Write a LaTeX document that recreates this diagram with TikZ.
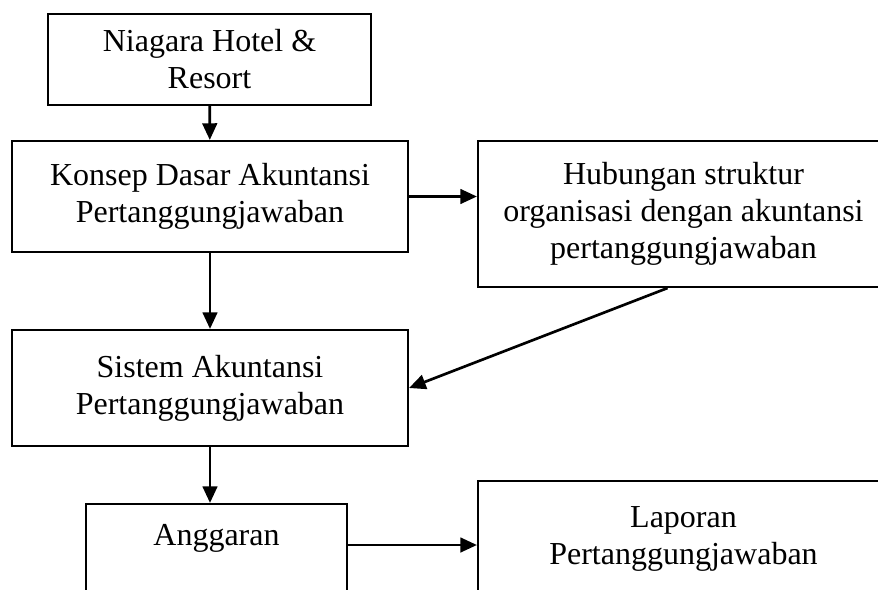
\documentclass[tikz,border=0pt]{standalone}
\usepackage{fontspec}
\setmainfont{Liberation Serif}
\usepackage{tikz}
\usepackage{xcolor}
\usetikzlibrary{arrows.meta}
\definecolor{ink}{HTML}{000000}
\definecolor{paper}{HTML}{FFFFFF}
\tikzset{
  flowbox/.style={draw=ink,fill=paper,line width=1.6pt,
                  align=center,inner sep=0pt,
                  font=\fontsize{24}{27.75}\selectfont},
  flowarr/.style={-{Triangle[length=12.5pt,width=11pt]},line width=2pt,color=ink}
}

\begin{document}
\begin{tikzpicture}[x=0.75pt,y=-0.75pt]
      \useasboundingbox (0,0) rectangle (878,589);
      \clip (0,0) rectangle (878,589);
      \node[flowbox,minimum width=242.25pt,minimum height=68.25pt] (hotel) at (209.5,59.5) {Niagara Hotel \&\\Resort};
      \node[flowbox,minimum width=297pt,minimum height=83.25pt] (konsep) at (210,196.5) {Konsep Dasar Akuntansi\\Pertanggungjawaban};
      \node[flowbox,minimum width=308.25pt,minimum height=109.5pt] (struktur) at (683.5,214) {Hubungan struktur\\organisasi dengan akuntansi\\pertanggungjawaban};
      \node[flowbox,minimum width=297pt,minimum height=87pt] (sistem) at (210,388) {Sistem Akuntansi\\Pertanggungjawaban};
      \node[flowbox,minimum width=195.75pt,text height=30.75pt,text depth=60pt,anchor=base] (anggaran) at (216.5,545) {Anggaran};
      \node[flowbox,minimum width=308.25pt,minimum height=87pt] (laporan) at (683.5,539) {Laporan\\Pertanggungjawaban};
      \draw[flowarr] (hotel)--(konsep);
      \draw[flowarr] (konsep.east)--(konsep.east -| struktur.west);
      \draw[flowarr] (konsep)--(sistem);
      \draw[flowarr] ([xshift=-12pt]struktur.south)--(sistem.east);
      \draw[flowarr] (sistem.south)--(sistem.south |- anggaran.north);
      \draw[flowarr] (anggaran.base east)--(anggaran.base east -| laporan.west);
    \end{tikzpicture}
\end{document}
